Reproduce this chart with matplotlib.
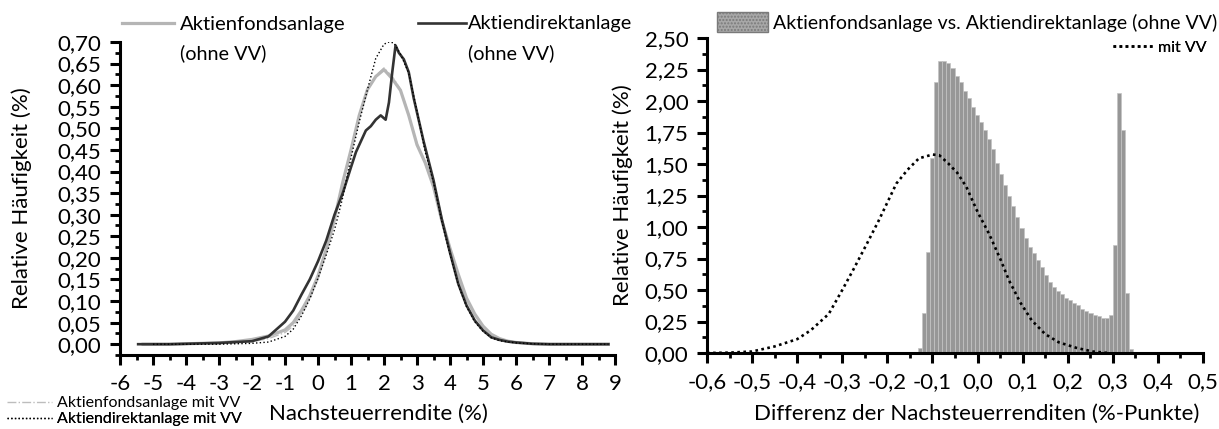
import matplotlib.pyplot as plt
from matplotlib.ticker import MultipleLocator, FuncFormatter

plt.rcParams['font.family'] = ['Lato', 'DejaVu Sans']

# Verteilung der Nachsteuerrenditen (%), linkes Diagramm
fonds_x = [-5.30, -4.50, -4.00, -3.50, -3.00, -2.50, -2.00, -1.50, -1.00, -0.75,
           -0.50, -0.25, 0.00, 0.25, 0.50, 0.75, 1.00, 1.25, 1.50, 1.75,
           2.00, 2.25, 2.50, 2.75, 3.00, 3.25, 3.50, 3.75, 4.00, 4.25,
           4.50, 4.75, 5.00, 5.25, 5.50, 5.75, 6.00, 6.50, 7.00, 8.80]
fonds_y = [0.000, 0.000, 0.001, 0.002, 0.003, 0.006, 0.011, 0.019, 0.033, 0.050,
           0.078, 0.112, 0.158, 0.220, 0.290, 0.375, 0.450, 0.530, 0.590, 0.620,
           0.636, 0.615, 0.588, 0.530, 0.462, 0.420, 0.365, 0.287, 0.222, 0.162,
           0.107, 0.070, 0.042, 0.023, 0.013, 0.007, 0.004, 0.001, 0.000, 0.000]

direkt_x = [-5.45, -4.50, -4.00, -3.50, -3.00, -2.50, -2.00, -1.50, -1.00, -0.75,
            -0.50, -0.25, 0.00, 0.25, 0.50, 0.75, 1.00, 1.15, 1.30, 1.45,
            1.60, 1.75, 1.90, 2.05, 2.15, 2.25, 2.35, 2.45, 2.60, 2.75,
            2.90, 3.05, 3.20, 3.35, 3.50, 3.75, 4.00, 4.25, 4.50, 4.75,
            5.00, 5.25, 5.50, 5.75, 6.00, 6.50, 7.00, 8.80]
direkt_y = [0.000, 0.000, 0.001, 0.002, 0.003, 0.005, 0.007, 0.018, 0.052, 0.078,
            0.115, 0.150, 0.192, 0.240, 0.300, 0.350, 0.410, 0.445, 0.470, 0.495,
            0.505, 0.520, 0.530, 0.520, 0.560, 0.630, 0.692, 0.675, 0.660, 0.630,
            0.570, 0.520, 0.470, 0.425, 0.380, 0.290, 0.212, 0.140, 0.090, 0.055,
            0.032, 0.016, 0.010, 0.006, 0.004, 0.001, 0.000, 0.000]

fonds_vv_x = [-5.00, -3.00, -2.50, -2.00, -1.50, -1.00, -0.75, -0.50, -0.25, 0.00,
              0.25, 0.50, 0.75, 1.00, 1.25, 1.50, 1.75, 2.00, 2.25, 2.50,
              2.75, 3.00, 3.25, 3.50, 3.75, 4.00, 4.25, 4.50, 4.75, 5.00,
              5.25, 5.50, 6.00, 6.50, 7.00, 8.80]
fonds_vv_y = [0.000, 0.001, 0.003, 0.006, 0.013, 0.027, 0.042, 0.068, 0.104, 0.150,
              0.213, 0.285, 0.372, 0.448, 0.528, 0.588, 0.622, 0.640, 0.620, 0.590,
              0.532, 0.465, 0.422, 0.366, 0.287, 0.220, 0.160, 0.106, 0.069, 0.041,
              0.023, 0.013, 0.004, 0.001, 0.000, 0.000]

direkt_vv_x = [-5.00, -3.00, -2.50, -2.00, -1.50, -1.00, -0.75, -0.50, -0.25, 0.00,
               0.25, 0.50, 0.75, 1.00, 1.25, 1.50, 1.75, 2.00, 2.15, 2.30,
               2.50, 2.75, 3.00, 3.25, 3.50, 3.75, 4.00, 4.25, 4.50, 4.75,
               5.00, 5.25, 5.50, 6.00, 6.50, 7.00, 8.80]
direkt_vv_y = [0.000, 0.000, 0.001, 0.002, 0.005, 0.018, 0.035, 0.066, 0.105, 0.153,
               0.207, 0.265, 0.340, 0.432, 0.515, 0.590, 0.662, 0.695, 0.700, 0.698,
               0.672, 0.628, 0.540, 0.445, 0.375, 0.285, 0.208, 0.138, 0.087, 0.052,
               0.030, 0.015, 0.008, 0.003, 0.001, 0.000, 0.000]

# Differenz der Nachsteuerrenditen (%-Punkte), rechtes Diagramm
diff_bin_start = -0.141
diff_bin_width = 0.009
diff_hist = [0.005, 0.04, 0.32, 0.80, 1.55, 2.15, 2.32, 2.32, 2.30, 2.26,
             2.20, 2.15, 2.08, 2.02, 1.95, 1.89, 1.83, 1.77, 1.70, 1.62,
             1.51, 1.42, 1.33, 1.25, 1.17, 1.08, 0.99, 0.91, 0.84, 0.79,
             0.74, 0.68, 0.62, 0.56, 0.52, 0.49, 0.47, 0.44, 0.42, 0.40,
             0.38, 0.35, 0.33, 0.32, 0.30, 0.29, 0.28, 0.28, 0.30, 0.86,
             2.06, 1.77, 0.48, 0.03]

diff_vv_x = [-0.60, -0.55, -0.50, -0.45, -0.40, -0.37, -0.33, -0.30, -0.275, -0.245,
             -0.22, -0.20, -0.18, -0.155, -0.13, -0.10, -0.085, -0.065, -0.045, -0.025,
             0.00, 0.025, 0.05, 0.07, 0.095, 0.12, 0.15, 0.18, 0.22, 0.255, 0.29]
diff_vv_y = [0.000, 0.003, 0.012, 0.052, 0.110, 0.180, 0.310, 0.500, 0.665, 0.870,
             1.045, 1.195, 1.345, 1.455, 1.545, 1.575, 1.570, 1.505, 1.430, 1.320,
             1.120, 0.950, 0.750, 0.575, 0.400, 0.260, 0.150, 0.085, 0.040, 0.012, 0.000]

W, H = 1219, 429
fig = plt.figure(figsize=(W / 100, H / 100), dpi=100)


def comma(digits):
    def fmt(v, pos):
        if abs(v) < 1e-9:
            v = 0.0
        return f"{v:.{digits}f}".replace('.', ',')
    return FuncFormatter(fmt)


def style_axes(ax):
    for side in ('top', 'right'):
        ax.spines[side].set_visible(False)
    for side in ('left', 'bottom'):
        ax.spines[side].set_linewidth(2.2)
    ax.tick_params(which='major', direction='out', length=7.5, width=2.2,
                   labelsize=16, pad=6)
    ax.tick_params(which='minor', direction='out', length=3.5, width=2.0)


def fx(px):
    return px / W


def fy(py):
    return 1 - py / H


def place_labels(ax, left, right, bottom, top, xlabel_cx, ylabel_cx, label_cy=414):
    # Achsentitel in Pixelpositionen relativ zur Achsenfläche setzen
    ax.xaxis.set_label_coords((xlabel_cx - left) / (right - left),
                              (bottom - label_cy) / (bottom - top))
    ax.xaxis.label.set_va('center')
    ax.yaxis.set_label_coords((ylabel_cx - left) / (right - left), 0.5)
    ax.yaxis.label.set_va('center')


def entry(ax, handle, label, x0, y0, size, hlen, pad, **kw):
    pt = size * 100 / 72
    leg = ax.legend([handle], [label], loc='center left', bbox_to_anchor=(fx(x0), fy(y0)),
                    bbox_transform=fig.transFigure, frameon=False, fontsize=size,
                    handlelength=hlen / pt, handletextpad=pad / pt,
                    borderpad=0, borderaxespad=0, **kw)
    ax.add_artist(leg)
    return leg


# linkes Diagramm
L1, R1, B1, T1 = 120, 615, 355, 42
ax1 = fig.add_axes([fx(L1), fy(B1), fx(R1) - fx(L1), fy(T1) - fy(B1)])
l_fonds, = ax1.plot(fonds_x, fonds_y, color='#b5b5b5', lw=2.3, zorder=3)
l_fonds_vv, = ax1.plot(fonds_vv_x, fonds_vv_y, color='#bdbdbd', lw=1.0,
                       ls='-.', zorder=2)
l_direkt, = ax1.plot(direkt_x, direkt_y, color='#333333', lw=1.9, zorder=4)
l_direkt_vv, = ax1.plot(direkt_vv_x, direkt_vv_y, color='black', lw=1.0,
                        ls=':', zorder=5)

ax1.set_xlim(-6, 9)
ax1.set_ylim(-0.025, 0.70)
ax1.xaxis.set_major_locator(MultipleLocator(1))
ax1.xaxis.set_minor_locator(MultipleLocator(0.5))
ax1.yaxis.set_minor_locator(MultipleLocator(0.025))
ax1.set_yticks([i * 0.05 for i in range(15)])
ax1.xaxis.set_major_formatter(comma(0))
ax1.yaxis.set_major_formatter(comma(2))
style_axes(ax1)
ax1.set_xlabel('Nachsteuerrendite (%)', fontsize=16)
ax1.set_ylabel('Relative Häufigkeit (%)', fontsize=16)
place_labels(ax1, L1, R1, B1, T1, xlabel_cx=378, ylabel_cx=22)

entry(ax1, l_fonds, 'Aktienfondsanlage', 122, 24, 14.6, 52, 6)
entry(ax1, l_direkt, 'Aktiendirektanlage', 418, 24, 14.3, 48, 2)
fig.text(fx(180), fy(53), '(ohne VV)', fontsize=14.3, va='center')
fig.text(fx(468), fy(53), '(ohne VV)', fontsize=14.3, va='center')

entry(ax1, l_fonds_vv, 'Aktienfondsanlage mit VV', 7, 403, 11.5, 45, 5)
entry(ax1, l_direkt_vv, 'Aktiendirektanlage mit VV', 7, 419, 11.5, 45, 5)

# rechtes Diagramm
L2, R2, B2, T2 = 707, 1203, 353, 38
ax2 = fig.add_axes([fx(L2), fy(B2), fx(R2) - fx(L2), fy(T2) - fy(B2)])
centers = [diff_bin_start + diff_bin_width * (i + 0.5) for i in range(len(diff_hist))]
bars = ax2.bar(centers, diff_hist, width=diff_bin_width, color='#979797',
               edgecolor='#c4c4c4', linewidth=0.5, zorder=2)
l_vv, = ax2.plot(diff_vv_x, diff_vv_y, color='black', lw=1.9,
                 ls=(0, (1, 1.3)), zorder=3)

ax2.set_xlim(-0.6, 0.5)
ax2.set_ylim(0, 2.5)
ax2.xaxis.set_major_locator(MultipleLocator(0.1))
ax2.xaxis.set_minor_locator(MultipleLocator(0.05))
ax2.yaxis.set_major_locator(MultipleLocator(0.25))
ax2.yaxis.set_minor_locator(MultipleLocator(0.125))
ax2.xaxis.set_major_formatter(comma(1))
ax2.yaxis.set_major_formatter(comma(2))
style_axes(ax2)
ax2.set_xlabel('Differenz der Nachsteuerrenditen (%-Punkte)', fontsize=16)
ax2.set_ylabel('Relative Häufigkeit (%)', fontsize=16)
place_labels(ax2, L2, R2, B2, T2, xlabel_cx=977, ylabel_cx=623)

patch_handle = plt.Rectangle((0, 0), 1, 1, facecolor='#a8a8a8', edgecolor='#7a7a7a',
                             hatch='.....', linewidth=1.0)
entry(ax2, patch_handle, 'Aktienfondsanlage vs. Aktiendirektanlage (ohne VV)',
      717, 22, 14, 51, 5, handleheight=24 / (14 * 100 / 72))
entry(ax2, l_vv, 'mit VV', 1113, 48, 11.5, 42, 3)

fig.savefig('out.png', dpi=100)
